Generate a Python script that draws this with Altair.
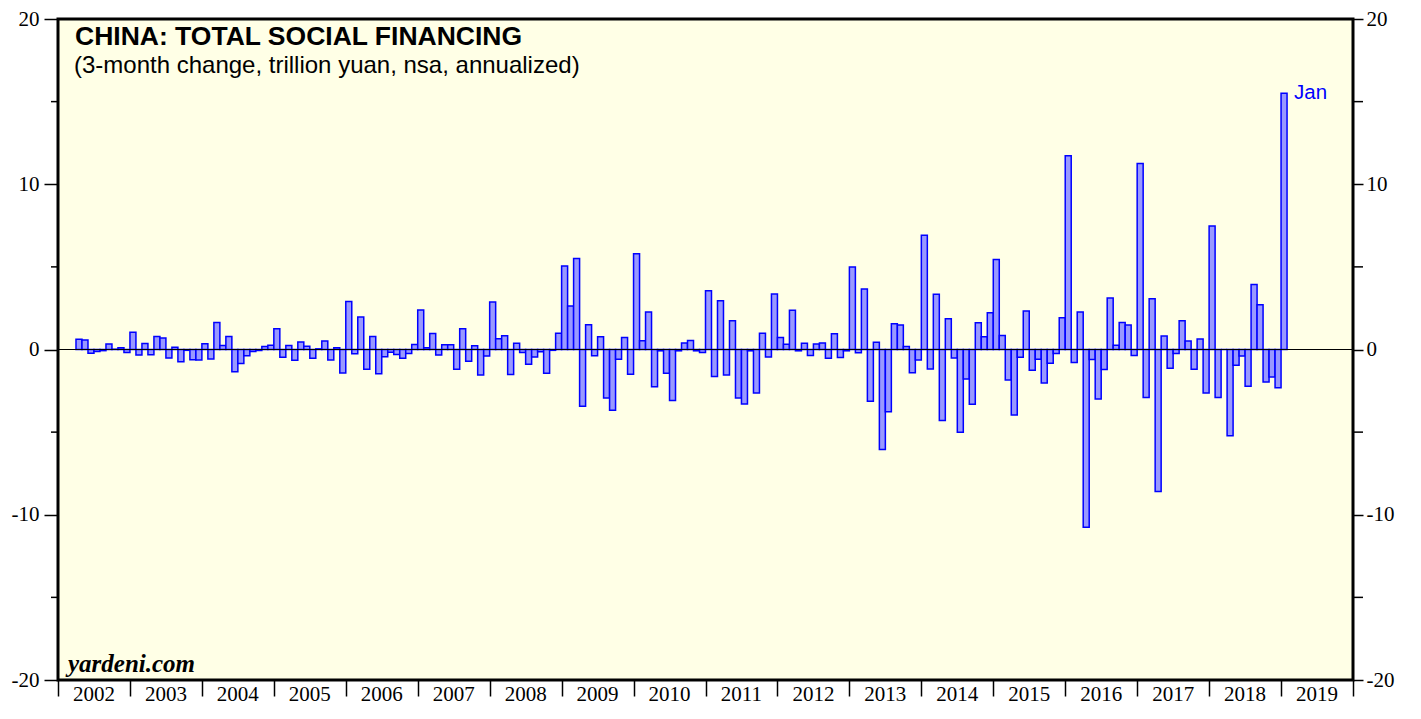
import altair as alt
import pandas as pd

# ---- data (trillion yuan, 3-month change annualized), monthly from Apr 2002 to Jan 2019
first_month = 3  # months after Jan 2002 -> April 2002
values = [
    0.62, 0.58, -0.22, -0.12, -0.07, 0.34, 0.02, 0.10, -0.18,            # 2002 Apr-Dec
    1.04, -0.34, 0.36, -0.32, 0.78, 0.70, -0.52, 0.14, -0.74, -0.05, -0.62, -0.63,  # 2003
    0.35, -0.57, 1.64, 0.24, 0.79, -1.35, -0.85, -0.38, -0.12, -0.06, 0.18, 0.26,   # 2004
    1.25, -0.47, 0.24, -0.65, 0.45, 0.20, -0.53, 0.04, 0.51, -0.63, 0.10, -1.42,    # 2005
    2.91, -0.26, 1.96, -1.19, 0.79, -1.46, -0.44, -0.16, -0.30, -0.53, -0.24, 0.30, # 2006
    2.39, 0.10, 0.97, -0.34, 0.28, 0.28, -1.19, 1.25, -0.71, 0.22, -1.54, -0.40,    # 2007
    2.87, 0.65, 0.83, -1.52, 0.38, -0.18, -0.89, -0.45, -0.14, -1.44, -0.05, 0.99,  # 2008
    5.06, 2.63, 5.50, -3.44, 1.50, -0.38, 0.77, -2.93, -3.68, -0.59, 0.73, -1.50,   # 2009
    5.80, 0.53, 2.27, -2.26, -0.08, -1.44, -3.09, -0.08, 0.40, 0.55, -0.08, -0.18,  # 2010
    3.56, -1.64, 2.95, -1.54, 1.74, -2.93, -3.30, -0.08, -2.63, 0.99, -0.45, 3.36,  # 2011
    0.73, 0.32, 2.37, -0.08, 0.38, -0.36, 0.34, 0.40, -0.53, 0.95, -0.49, -0.08,    # 2012
    5.00, -0.20, 3.66, -3.13, 0.44, -6.05, -3.77, 1.56, 1.49, 0.18, -1.41, -0.63,   # 2013
    6.92, -1.18, 3.34, -4.29, 1.86, -0.51, -5.00, -1.78, -3.32, 1.62, 0.77, 2.22,   # 2014
    5.44, 0.84, -1.84, -3.96, -0.47, 2.33, -1.25, -0.59, -2.02, -0.83, -0.24, 1.92, # 2015
    11.73, -0.79, 2.27, -10.76, -0.61, -2.99, -1.21, 3.11, 0.26, 1.64, 1.48, -0.36, # 2016
    11.25, -2.91, 3.07, -8.59, 0.81, -1.13, -0.24, 1.74, 0.51, -1.19, 0.63, -2.63,  # 2017
    7.48, -2.91, 0.00, -5.22, -0.95, -0.40, -2.22, 3.94, 2.71, -1.96, -1.66, -2.31, # 2018
    15.50,                                                                          # 2019 Jan
]
first_year = 2002
last_year = 2019
years = list(range(first_year, last_year + 1))
major_ticks = [-20, -10, 0, 10, 20]
minor_ticks = [-15, -5, 5, 15]

title_text = "CHINA: TOTAL SOCIAL FINANCING"
subtitle_text = "(3-month change, trillion yuan, nsa, annualized)"
source_text = "yardeni.com"
last_label = "Jan"

n_months = len(years) * 12
df = pd.DataFrame({"m": [first_month + i for i in range(len(values))], "v": values})
df["m2"] = df["m"] + 1
year_df = pd.DataFrame({"year": [str(y) for y in years],
                        "mid": [12 * i + 6 for i in range(len(years))]})
minor_df = pd.DataFrame({"t": minor_ticks})

W, H = 1295, 661
PT, PB, PL, PR = 11, 26, 50, 58
xscale = alt.Scale(domain=[0, n_months], nice=False, zero=False)
yscale = alt.Scale(domain=[-20, 20], nice=False)
serif = "Liberation Serif"
sans = "Liberation Sans"


def yaxis(orient, tick, pad):
    return alt.Axis(
        orient=orient, values=major_ticks,
        labelExpr="'' + datum.value",
        tickSize=tick, tickWidth=1.5, tickColor="black", domain=False, grid=False,
        labelFont=serif, labelFontSize=21, labelColor="black", labelPadding=pad,
        title=None,
    )


xaxis = alt.Axis(
    values=[12 * i for i in range(len(years) + 1)],
    labels=False, tickSize=16, tickWidth=1.5, tickColor="black",
    domain=False, grid=False, title=None,
)

bars = alt.Chart(df).mark_rect(fill="#9999FF", stroke="#0000FF", strokeWidth=1.5).encode(
    x=alt.X("m:Q", scale=xscale, axis=xaxis),
    x2="m2:Q",
    y=alt.Y("v:Q", scale=yscale, axis=yaxis("left", 14, 5)),
    y2=alt.datum(0),
)

zero = alt.Chart(pd.DataFrame({"z": [0]})).mark_rule(color="black", strokeWidth=1.2).encode(
    y=alt.Y("z:Q", scale=yscale, axis=yaxis("right", 10, 3)),
)

minor_left = alt.Chart(minor_df).mark_rule(color="black", strokeWidth=1.5).encode(
    y=alt.Y("t:Q", scale=yscale, axis=None),
    x=alt.value(-7), x2=alt.value(0),
)
minor_right = alt.Chart(minor_df).mark_rule(color="black", strokeWidth=1.5).encode(
    y=alt.Y("t:Q", scale=yscale, axis=None),
    x=alt.value(W), x2=alt.value(W + 10),
)

jan = alt.Chart(df.tail(1)).mark_text(
    align="left", baseline="middle", dx=7, color="#0000FF", font=sans, fontSize=20.5
).encode(
    x=alt.X("m2:Q", scale=xscale, axis=xaxis),
    y=alt.Y("v:Q", scale=yscale, axis=None),
    text=alt.value(last_label),
)

year_labels = alt.Chart(year_df).mark_text(
    align="center", baseline="alphabetic", font=serif, fontSize=21, color="black"
).encode(
    x=alt.X("mid:Q", scale=xscale, axis=xaxis),
    y=alt.value(H + 21),
    text="year:N",
)

title = alt.Chart(pd.DataFrame({"t": [title_text]})).mark_text(
    align="left", baseline="alphabetic", font=sans, fontSize=26.5, fontWeight="bold", color="black"
).encode(x=alt.value(17), y=alt.value(26), text="t:N")

subtitle = alt.Chart(pd.DataFrame({"t": [subtitle_text]})).mark_text(
    align="left", baseline="alphabetic", font=sans, fontSize=24, color="black"
).encode(x=alt.value(16), y=alt.value(54), text="t:N")

source = alt.Chart(pd.DataFrame({"t": [source_text]})).mark_text(
    align="left", baseline="alphabetic", font=serif, fontSize=25, fontWeight="bold",
    fontStyle="italic", color="black"
).encode(x=alt.value(10), y=alt.value(H - 8), text="t:N")

chart = alt.layer(
    bars, zero, minor_left, minor_right, jan, year_labels, title, subtitle, source
).resolve_axis(
    y="independent"
).resolve_scale(y="shared").properties(
    width=W, height=H,
    autosize=alt.AutoSizeParams(type="none"),
    padding={"left": PL, "top": PT, "right": PR, "bottom": PB},
    background="white",
).configure_view(
    fill="#FFFFE6", stroke="black", strokeWidth=3
)

chart.save("out.html", embed_options={"renderer": "svg", "actions": False})
